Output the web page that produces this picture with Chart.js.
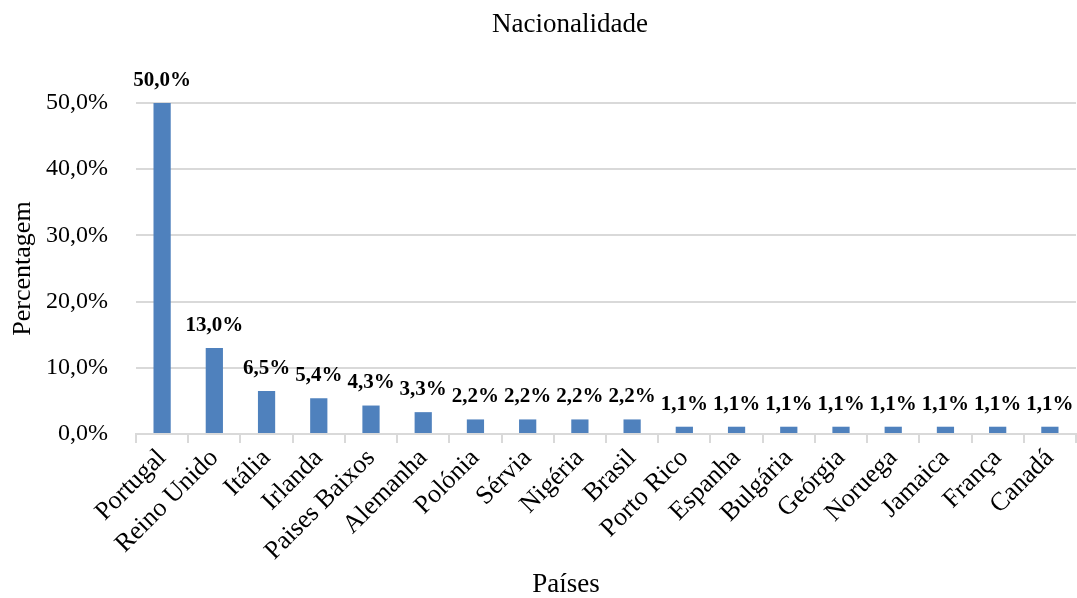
<!DOCTYPE html>
<html>
<head>
<meta charset="utf-8">
<script src="https://cdn.jsdelivr.net/npm/chart.js@4"></script>
<style>
  html, body { margin: 0; padding: 0; background: #fff; }
  #wrap { width: 1077px; height: 598px; }
</style>
</head>
<body>
<div id="wrap"><canvas id="chartNacionalidade"></canvas></div>
<script>
const PAISES = ['Portugal', 'Reino Unido', 'Itália', 'Irlanda', 'Paises Baixos', 'Alemanha',
  'Polónia', 'Sérvia', 'Nigéria', 'Brasil', 'Porto Rico', 'Espanha', 'Bulgária', 'Geórgia',
  'Noruega', 'Jamaica', 'França', 'Canadá'];
const PERCENTAGENS = [50.0, 13.0, 6.5, 5.4, 4.3, 3.3, 2.2, 2.2, 2.2, 2.2, 1.1, 1.1, 1.1, 1.1, 1.1, 1.1, 1.1, 1.1];
const Y_TICKS = [0, 10, 20, 30, 40, 50];

const TITULO = 'Nacionalidade';
const TITULO_X = 'Países';
const TITULO_Y = 'Percentagem';

const FONTE = '"Liberation Serif", "Times New Roman", serif';
const fmt = (v) => v.toFixed(1).replace('.', ',') + '%';

// rótulos de valor por cima das barras + títulos (centrados como no original)
const rotulosPlugin = {
  id: 'rotulos',
  afterDatasetsDraw(chart) {
    const { ctx } = chart;
    const meta = chart.getDatasetMeta(0);
    ctx.save();
    ctx.font = 'bold 21px ' + FONTE;
    ctx.fillStyle = '#000';
    ctx.textAlign = 'center';
    ctx.textBaseline = 'bottom';
    meta.data.forEach((bar, i) => {
      ctx.fillText(fmt(PERCENTAGENS[i]), bar.x, bar.y - 12);
    });

    ctx.font = '27px ' + FONTE;
    ctx.textBaseline = 'middle';
    ctx.fillText(TITULO, 570, 25);
    ctx.fillText(TITULO_X, 566, 585);
    ctx.restore();
  },
};

new Chart(document.getElementById('chartNacionalidade').getContext('2d'), {
  type: 'bar',
  data: {
    labels: PAISES,
    datasets: [{
      label: 'Percentagem',
      data: PERCENTAGENS,
      backgroundColor: '#4f81bd',
      categoryPercentage: 1,
      barPercentage: 0.33,
    }],
  },
  plugins: [rotulosPlugin],
  options: {
    responsive: true,
    maintainAspectRatio: false,
    animation: false,
    layout: { padding: { top: 103, right: 1, left: 8, bottom: 0 } },
    plugins: {
      legend: { display: false },
      tooltip: { enabled: false },
      title: { display: false },
    },
    scales: {
      x: {
        afterFit(axis) {
          axis.paddingLeft = 0;
          axis.paddingRight = 0;
          axis.height = 164;
        },
        grid: {
          display: true,
          drawOnChartArea: false,
          drawTicks: true,
          tickLength: 9,
          color: '#d9d9d9',
          lineWidth: 2,
        },
        border: { color: '#d9d9d9', width: 2 },
        ticks: {
          color: '#000',
          font: { family: FONTE, size: 26 },
          maxRotation: 45,
          minRotation: 45,
          autoSkip: false,
          padding: 0,
        },
      },
      y: {
        min: 0,
        max: 50,
        afterBuildTicks(axis) {
          axis.ticks = Y_TICKS.map((v) => ({ value: v }));
        },
        afterFit(axis) {
          axis.width = 128;
          axis.paddingTop = 0;
        },
        grid: {
          color: '#d9d9d9',
          lineWidth: 2,
          drawTicks: false,
        },
        border: { display: false },
        ticks: {
          color: '#000',
          font: { family: FONTE, size: 24 },
          padding: 28,
          callback: (v) => fmt(v),
        },
        title: {
          display: true,
          text: TITULO_Y,
          color: '#000',
          font: { family: FONTE, size: 26 },
          padding: { top: 0, bottom: 0 },
        },
      },
    },
  },
});
</script>
</body>
</html>
